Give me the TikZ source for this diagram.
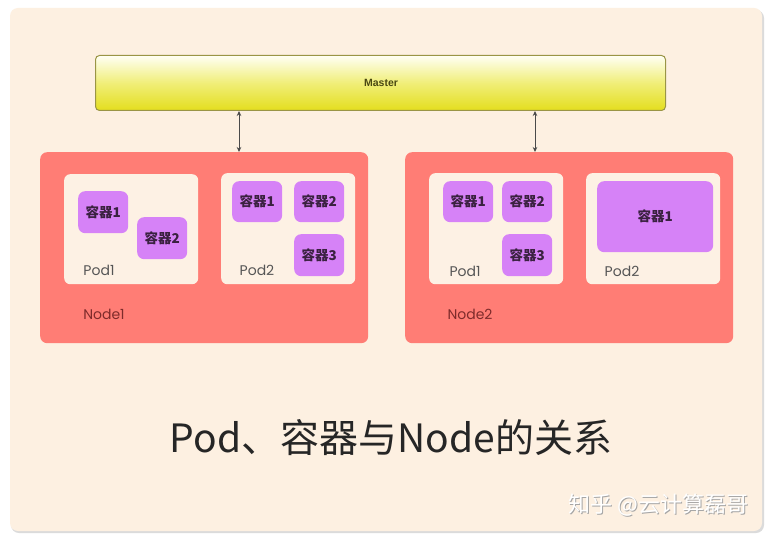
\documentclass[tikz,border=0pt]{standalone}
\usepackage{fontspec}
\setmainfont{Noto Sans CJK SC}
\newfontfamily\cjk{Noto Sans CJK SC}
\newfontfamily\lat{Poppins}
\newfontfamily\mfont{Liberation Sans}
\usetikzlibrary{arrows.meta}
\definecolor{pagebg}{HTML}{FFFFFF}
\definecolor{cardbg}{HTML}{FDF0E1}
\definecolor{nodecol}{HTML}{FF7D75}
\definecolor{podcol}{HTML}{FDF1E4}
\definecolor{boxcol}{HTML}{D682F7}
\definecolor{boxtext}{HTML}{3A2140}
\definecolor{nodetext}{HTML}{7E2B2B}
\definecolor{podtext}{HTML}{555555}
\definecolor{masterline}{HTML}{9A9545}
\definecolor{mastertext}{HTML}{4A4812}
\definecolor{arrowcol}{HTML}{4A4A4A}
\tikzset{
  nodebox/.style={fill=nodecol, rounded corners=7pt, inner sep=0pt, anchor=north west},
  podbox/.style={fill=podcol, rounded corners=6pt, inner sep=0pt, anchor=north west},
  ctbox/.style={fill=boxcol, rounded corners=7pt, inner sep=0pt, anchor=north west,
     font=\cjk\bfseries\fontsize{13.5}{14}\selectfont, text=boxtext},
  podlabel/.style={font=\lat\fontsize{14}{15}\selectfont, text=podtext, inner sep=0pt},
  nodelabel/.style={font=\lat\fontsize{14}{15}\selectfont, text=nodetext, inner sep=0pt},
  biarrow/.style={arrowcol, line width=0.8pt, {Stealth[length=5pt,width=4.5pt]}-{Stealth[length=5pt,width=4.5pt]}},
}
\begin{document}
\begin{tikzpicture}[x=1pt,y=-1pt]
\useasboundingbox (0,0) rectangle (770,537);
\fill[pagebg] (0,0) rectangle (770,537);
% card with shadow
\fill[black!14, rounded corners=8pt] (11,10) rectangle (764,533);
\fill[cardbg, rounded corners=8pt] (10,8) rectangle (762,531);

% Master
\node[draw=masterline, line width=1pt, rounded corners=4pt, anchor=north west,
      minimum width=570pt, minimum height=55pt, inner sep=0pt,
      top color=yellow!4!white, bottom color={rgb,255:red,228;green,222;blue,30},
      middle color={rgb,255:red,240;green,238;blue,120}] (master) at (95,55) {};
\node[font=\mfont\bfseries\fontsize{10.5}{11}\selectfont, text=mastertext] (mtext) at (381,83) {Master};

% Node 1
\node[nodebox, minimum width=328pt, minimum height=191pt] (n1) at (40,152) {};
\node[podbox, minimum width=134pt, minimum height=110pt] (n1p1) at (64,174) {};
\node[podbox, minimum width=134pt, minimum height=111pt] (n1p2) at (221,173) {};
\node[ctbox, minimum width=50pt, minimum height=42pt] (n1p1c1) at (78,191) {容器1};
\node[ctbox, minimum width=50pt, minimum height=42pt] (n1p1c2) at (137,217) {容器2};
\node[ctbox, minimum width=50pt, minimum height=41pt] (n1p2c1) at (232,181) {容器1};
\node[ctbox, minimum width=50pt, minimum height=41pt] (n1p2c2) at (294,181) {容器2};
\node[ctbox, minimum width=50pt, minimum height=42pt] (n1p2c3) at (294,234) {容器3};
\node[podlabel] (l1p1) at (99,270) {Pod1};
\node[podlabel] (l1p2) at (257,270) {Pod2};
\node[nodelabel] (l1) at (104,314) {Node1};

% Node 2
\node[nodebox, minimum width=328pt, minimum height=191pt] (n2) at (405,152) {};
\node[podbox, minimum width=134pt, minimum height=111pt] (n2p1) at (429,173) {};
\node[podbox, minimum width=134pt, minimum height=111pt] (n2p2) at (586,173) {};
\node[ctbox, minimum width=50pt, minimum height=41pt] (n2p1c1) at (443,181) {容器1};
\node[ctbox, minimum width=50pt, minimum height=41pt] (n2p1c2) at (502,181) {容器2};
\node[ctbox, minimum width=50pt, minimum height=42pt] (n2p1c3) at (502,234) {容器3};
\node[ctbox, minimum width=116pt, minimum height=71pt] (n2p2c1) at (597,181) {容器1};
\node[podlabel] (l2p1) at (465,271) {Pod1};
\node[podlabel] (l2p2) at (622,271) {Pod2};
\node[nodelabel] (l2) at (470,314) {Node2};

% arrows
\coordinate (ax1) at (239,0);
\coordinate (ax2) at (535,0);
\draw[biarrow] (master.south -| ax1) -- (n1.north -| ax1);
\draw[biarrow] (master.south -| ax2) -- (n2.north -| ax2);

% title
\node[font=\cjk\fontsize{39}{44}\selectfont, text=black!85] (title) at (391,438) {Pod、容器与Node的关系};

% watermark
\node[font=\cjk\fontsize{22}{23}\selectfont, text=black!35] (wms) at (659.2,506) {知乎 @云计算磊哥};
\node[font=\cjk\fontsize{22}{23}\selectfont, text=white] (wm) at (658.5,505) {知乎 @云计算磊哥};
\end{tikzpicture}
\end{document}
